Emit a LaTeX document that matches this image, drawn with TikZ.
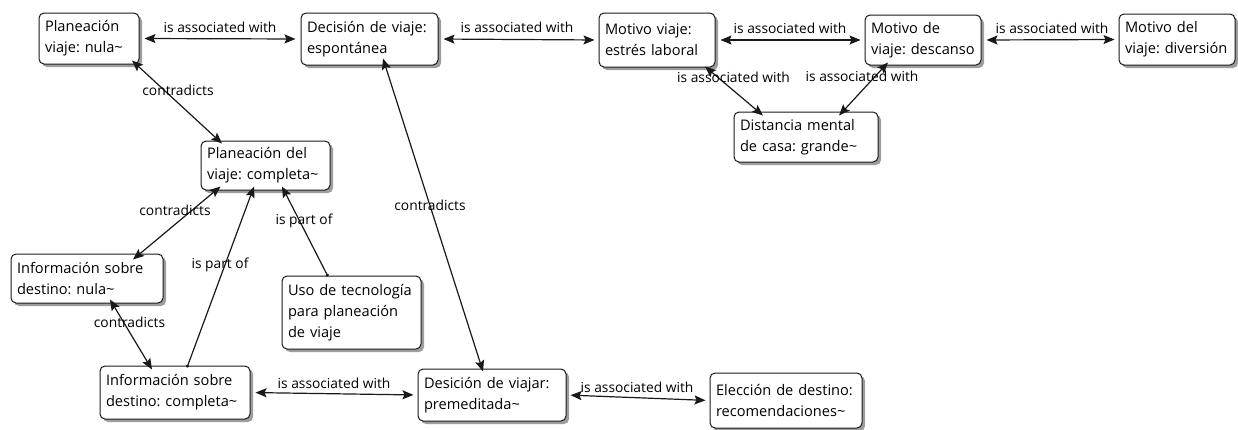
\documentclass[tikz,border=0pt]{standalone}
\usepackage{fontspec}
\setmainfont{Open Sans}
\frenchspacing
\usetikzlibrary{arrows.meta,shadows}
% one unbreakable line of a concept's text
\newcommand\tline[1]{\mbox{#1}}
\begin{document}
\begin{tikzpicture}[x=1pt,y=-1pt,
  font=\fontsize{14.6}{21}\selectfont,
  concept/.style={draw=black!90, line width=1pt, rounded corners=5pt, fill=white,
    drop shadow={shadow xshift=3pt, shadow yshift=-3pt, opacity=0.55, fill=black!70},
    align=left, inner xsep=6pt, inner ysep=3pt, text=black},
  link/.style={font=\fontsize{13.8}{16}\selectfont, inner sep=1pt, text=black},
  tip/.style={Stealth[length=11pt,width=9pt,inset=2pt]},
  rel/.style={line width=1.2pt, black!90, {Stealth[length=11pt,width=9pt,inset=2pt]}-{Stealth[length=11pt,width=9pt,inset=2pt]}},
  part/.style={line width=1.2pt, black!90, {Circle[length=3pt]}-{Stealth[length=11pt,width=9pt,inset=2pt]}}]
\useasboundingbox (0,0) rectangle (1238,429);

% concepts
\node[concept, text width=88pt,  minimum height=51pt] (pnula)  at (89,38.5)   {\tline{Planeación}\\\tline{viaje: nula\textasciitilde}};
\node[concept, text width=125pt, minimum height=52pt] (despon) at (369.5,39)  {\tline{Decisión de viaje:}\\\tline{espontánea}};
\node[concept, text width=104pt, minimum height=54pt] (estres) at (657,40)    {\tline{Motivo viaje:}\\\tline{estrés laboral}};
\node[concept, text width=104pt, minimum height=50pt] (descan) at (923,40)    {\tline{Motivo de}\\\tline{viaje: descanso}};
\node[concept, text width=104pt, minimum height=51pt] (divers) at (1177,39.5) {\tline{Motivo del}\\\tline{viaje: diversión}};
\node[concept, text width=132pt, minimum height=50pt] (distan) at (806,137)   {\tline{Distancia mental}\\\tline{de casa: grande\textasciitilde}};
\node[concept, text width=117pt, minimum height=49pt] (pcomp)  at (265.5,165.5) {\tline{Planeación del}\\\tline{viaje: completa\textasciitilde}};
\node[concept, text width=140pt, minimum height=49pt] (inula)  at (87,278.5)  {\tline{Información sobre}\\\tline{destino: nula\textasciitilde}};
\node[concept, text width=127pt, minimum height=73pt] (tecno)  at (351.5,312.5) {\tline{Uso de tecnología}\\\tline{para planeación}\\\tline{de viaje}};
\node[concept, text width=138pt, minimum height=53pt] (icomp)  at (175,392.5) {\tline{Información sobre}\\\tline{destino: completa\textasciitilde}};
\node[concept, text width=136pt, minimum height=52pt] (dprem)  at (492,395)   {\tline{Desición de viajar:}\\\tline{premeditada\textasciitilde}};
\node[concept, text width=140pt, minimum height=55pt] (elecc)  at (786,400.5) {\tline{Elección de destino:}\\\tline{recomendaciones\textasciitilde}};

% connectors
\draw[rel, shorten <=5pt, shorten >=5pt] (pnula.east) -- (despon.west);
\draw[rel, shorten <=5pt, shorten >=4pt] (despon.east) -- (estres.west);
\draw[rel, shorten <=5pt, shorten >=4pt] (estres.east) -- (descan.west);
\draw[rel, shorten <=5pt, shorten >=4pt] (descan.east) -- (divers.west);
\draw[rel] ([xshift=48pt,yshift=1pt]estres.south) -- ([xshift=-43pt,yshift=-4pt]distan.north);
\draw[rel] ([xshift=-35pt,yshift=3pt]descan.south) -- ([xshift=33pt,yshift=-4pt]distan.north);
\draw[rel] ([xshift=43pt,yshift=4pt]pnula.south) -- ([xshift=-43.5pt,yshift=-3pt]pcomp.north);
\draw[rel] ([xshift=-45pt,yshift=4pt]pcomp.south) -- ([xshift=46pt,yshift=-6pt]inula.north);
\draw[rel] ([xshift=23pt,yshift=4pt]inula.south) -- ([xshift=-23pt,yshift=-4pt]icomp.north);
\draw[part] ([xshift=12pt,yshift=-2pt]icomp.north) -- ([xshift=-11.5pt,yshift=4pt]pcomp.south);
\draw[part] ([xshift=-23.5pt,yshift=-1pt]tecno.north) -- ([xshift=16.5pt,yshift=4pt]pcomp.south);
\draw[rel] ([xshift=13.5pt,yshift=7pt]despon.south) -- ([xshift=-9pt,yshift=-3pt]dprem.north);
\draw[rel, shorten <=5pt, shorten >=4pt] (icomp.east) -- (dprem.west);
\draw[rel, shorten <=4pt, shorten >=4pt] (dprem.east) -- (elecc.west);

% link labels
\node[link] (l1) at (220,27)   {is associated with};
\node[link] (l2) at (517,27)   {is associated with};
\node[link] (l3) at (790,28)   {is associated with};
\node[link] (l4) at (1052,28)  {is associated with};
\node[link] (l5) at (733.5,77) {is associated with};
\node[link] (l6) at (862,76)   {is associated with};
\node[link] (l7) at (178,90)   {contradicts};
\node[link] (l8) at (175,210)  {contradicts};
\node[link] (l9) at (129.5,322) {contradicts};
\node[link] (l10) at (220,265) {is part of};
\node[link] (l11) at (304,221) {is part of};
\node[link] (l12) at (430,205) {contradicts};
\node[link] (l13) at (334,383) {is associated with};
\node[link] (l14) at (637,387) {is associated with};
\end{tikzpicture}
\end{document}
